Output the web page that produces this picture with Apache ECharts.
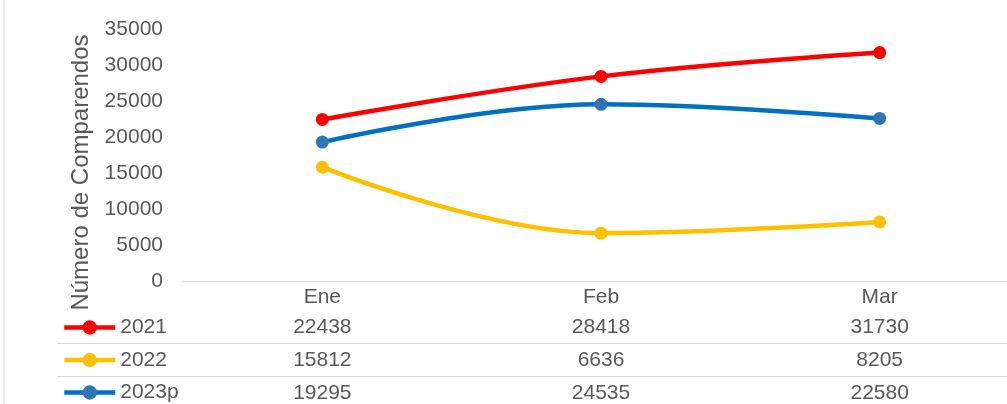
<!DOCTYPE html>
<html>
<head>
<meta charset="utf-8">
<script src="https://cdn.jsdelivr.net/npm/echarts@6/dist/echarts.min.js"></script>
<style>
  html, body { margin: 0; padding: 0; background: #fff; overflow: hidden; }
  /* el grafico original esta recortado por la derecha */
  #chart { width: 1019px; height: 404px; }
</style>
</head>
<body>
<div id="chart"></div>
<script>
// datos del grafico
var meses = ['Ene', 'Feb', 'Mar']
var serie2021 = [22438, 28418, 31730]
var serie2022 = [15812, 6636, 8205]
var serie2023p = [19295, 24535, 22580]
var nombres = ['2021', '2022', '2023p']
var colores = ['#ff0000', '#ffc000', '#0070c0']
var coloresMarca = ['#ff0000', '#ffc000', '#2e75b6']

var valores = [serie2021, serie2022, serie2023p]
var textColor = '#595959'
var fontFam = 'Liberation Sans, Arial, sans-serif'

var chart = echarts.init(document.getElementById('chart'))

// etiqueta del eje x = mes + fila de la tabla de datos
function etiqueta(value, idx) {
  var out = '{h|' + value + '}'
  valores.forEach(function (v) {
    out += '\n{v|' + v[idx] + '}'
  })
  return out
}

var series = nombres.map(function (n, i) {
  return {
    name: n,
    type: 'line',
    data: valores[i],
    smooth: 0.4,
    symbol: 'circle',
    symbolSize: 13,
    lineStyle: { width: 4.5, color: colores[i] },
    itemStyle: { color: coloresMarca[i] },
    z: 3 - i
  }
})

var legends = nombres.map(function (n, i) {
  return {
    data: [n],
    left: 62,
    top: 317 + i * 32.5,
    padding: 0,
    itemWidth: 51,
    itemHeight: 18,
    itemGap: 0,
    itemTextGap: 1,
    lineStyle: { width: 4.5 },
    textStyle: { color: textColor, fontSize: 21, fontFamily: fontFam }
  }
})

chart.setOption({
  backgroundColor: '#fff',
  animation: false,
  legend: legends,
  grid: {
    left: 183,
    top: 29,
    width: 836,
    height: 252
  },
  xAxis: {
    type: 'category',
    data: meses,
    boundaryGap: true,
    axisLine: { lineStyle: { color: '#d9d9d9', width: 1 } },
    axisTick: { show: false },
    axisLabel: {
      margin: 2,
      formatter: etiqueta,
      rich: {
        h: { fontSize: 21, lineHeight: 28, color: textColor, fontFamily: fontFam },
        v: { fontSize: 21, lineHeight: 33, color: textColor, fontFamily: fontFam }
      }
    }
  },
  yAxis: {
    type: 'value',
    min: 0,
    max: 35000,
    interval: 5000,
    name: 'Número de Comparendos',
    nameLocation: 'middle',
    nameGap: 84,
    nameTextStyle: {
      color: textColor,
      fontSize: 24,
      fontFamily: fontFam,
      padding: [0, 35, 0, 0]
    },
    axisLine: { show: false },
    axisTick: { show: false },
    splitLine: { show: false },
    axisLabel: {
      color: textColor,
      fontSize: 21,
      fontFamily: fontFam,
      margin: 20,
      formatter: function (v) { return String(v) }
    }
  },
  graphic: [
    { type: 'rect', shape: { x: 3, y: 0, width: 2, height: 404 }, style: { fill: '#ececec' }, silent: true },
    { type: 'line', shape: { x1: 57, y1: 343.5, x2: 1019, y2: 343.5 }, style: { stroke: '#d9d9d9', lineWidth: 1 }, silent: true },
    { type: 'line', shape: { x1: 57, y1: 376.5, x2: 1019, y2: 376.5 }, style: { stroke: '#d9d9d9', lineWidth: 1 }, silent: true }
  ],
  series: series
})
</script>
</body>
</html>
